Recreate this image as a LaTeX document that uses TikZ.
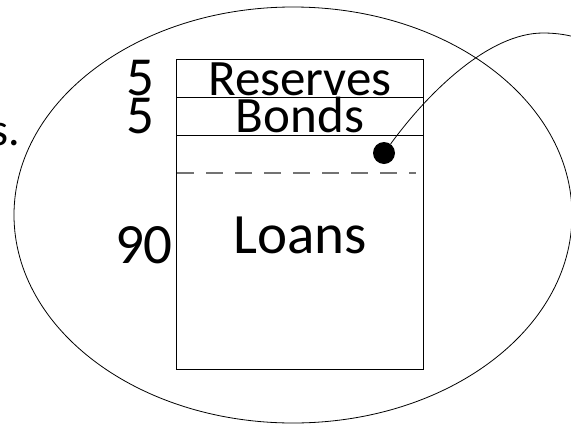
\documentclass[tikz,border=0pt]{standalone}
\usepackage{fontspec}
\setmainfont{Carlito}
\begin{document}
\begin{tikzpicture}[x=1pt,y=-1pt,
  boxline/.style={line width=1pt},
  thinline/.style={line width=0.8pt},
  lbl/.style={anchor=base,inner sep=0pt},
  numlbl/.style={anchor=base east,inner sep=0pt}]
\useasboundingbox (0,0) rectangle (571,424);
\clip (0,0) rectangle (571,424);
% big ellipse
\draw[thinline] (293,215) ellipse [x radius=279, y radius=208];
% balance sheet box
\draw[boxline] (176,59) rectangle (423,369);
\draw[boxline] (176,97) -- (423,97);
\draw[boxline] (176,135) -- (423,135);
\draw[black!55, line width=1.3pt, dash pattern=on 17pt off 12pt] (177,173) -- (416,173);
% texts
\node[lbl] (res) at (300,95) {\fontsize{51}{60}\selectfont Reserves};
\node[lbl] (bon) at (300,132) {\fontsize{51}{60}\selectfont Bonds};
\node[lbl] (loa) at (300,253) {\fontsize{57}{68}\selectfont Loans};
\node[numlbl] (n1) at (155,95) {\fontsize{55}{64}\selectfont 5};
\node[numlbl] (n2) at (155,133) {\fontsize{55}{64}\selectfont 5};
\node[numlbl] (n3) at (173,263) {\fontsize{57}{68}\selectfont 90};
\node[numlbl] (s) at (20,145) {\fontsize{46}{56}\selectfont s.};
% dot and curve
\node[circle, fill=black, minimum size=22pt, inner sep=0pt] (dot) at (384,153) {};
\coordinate (top) at (543,33);
\coordinate (out) at (590,42);
\draw[thinline] (dot) .. controls (430,90) and (490,33) .. (top)
  .. controls (560,33) and (575,36) .. (out);
\end{tikzpicture}
\end{document}
